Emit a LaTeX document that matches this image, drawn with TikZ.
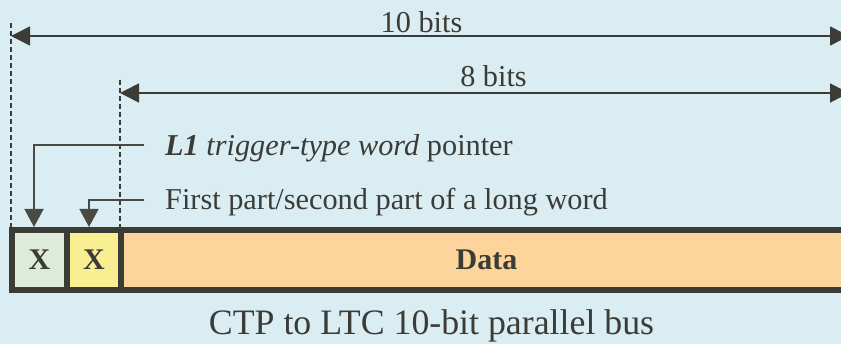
\documentclass[tikz,border=0pt]{standalone}
\usepackage{fontspec}
\setmainfont{Liberation Serif}
\usetikzlibrary{arrows.meta}
\definecolor{bg}{HTML}{DAEDF3}
\definecolor{ink}{HTML}{3C3C36}
\definecolor{cellA}{HTML}{DFEBDA}
\definecolor{cellB}{HTML}{F9EE91}
\definecolor{cellC}{HTML}{FDD59C}
\definecolor{lineg}{HTML}{4A4A45}
\tikzset{
  x=1pt, y=-1pt,
  cell/.style={draw=ink, line width=6pt, minimum height=60pt, inner sep=0pt,
    font=\fontsize{30}{34}\selectfont\bfseries, text=ink},
  lbl/.style={font=\fontsize{30.3}{34}\selectfont, text=ink, inner sep=0pt},
  dimarrow/.style={draw=ink, line width=1.5pt,
    {Triangle[length=19pt,width=19pt]}-{Triangle[length=19pt,width=19pt]}},
  guide/.style={draw=ink, line width=1.5pt, dash pattern=on 5pt off 3pt},
  ptr/.style={draw=lineg, line width=1.4pt, -{Triangle[length=18pt,width=19pt]}}
}
\begin{document}
\begin{tikzpicture}
\fill[bg] (0,0) rectangle (841,344);
\useasboundingbox (0,0) rectangle (841,344);
\clip (0,0) rectangle (841,344);
% cells
\node[cell, draw=none, outer sep=0pt, fill=cellC, minimum width=750pt, anchor=west] (data) at (121,260) {\hspace*{-19pt}Data};
\draw[ink, line width=6pt] (data.north west) -- (data.north east);
\draw[ink, line width=6pt] (data.south west) -- (data.south east);
\node[cell, fill=cellA, minimum width=55pt] (c1) at (39.5,260) {X};
\node[cell, fill=cellB, minimum width=54pt] (c2) at (94,260) {X};
% guides
\coordinate (g1t) at (11,23);
\coordinate (g2t) at (120,80);
\draw[guide] (g1t) -- (11,228);
\draw[guide] (g2t) -- (120,228);
% dimension arrows
\coordinate (a1l) at (11,36);
\coordinate (a1r) at (849,36);
\coordinate (a2l) at (120,93);
\coordinate (a2r) at (849,93);
\draw[dimarrow] (a1l) -- (a1r);
\draw[dimarrow] (a2l) -- (a2r);
\node[lbl, anchor=base] (t10) at (421.5,33) {10 bits};
\node[lbl, anchor=base] (t8) at (493.5,87) {8 bits};
% pointer labels
\node[lbl, anchor=base west] (tl1) at (165,156) {\textbf{\textit{L1}} \textit{trigger-type word} pointer};
\node[lbl, anchor=base west] (tfp) at (165,210) {First part/second part of a long word};
\coordinate (p1) at (144,145);
\coordinate (p2) at (144,200);
\draw[ptr] (p1) -| ([xshift=-5.5pt]c1.north);
\draw[ptr] (p2) -| ([xshift=-5pt]c2.north);
% caption
\node[font=\fontsize{35.8}{40}\selectfont, text=ink, inner sep=0pt, anchor=base] (cap) at (431.5,335) {CTP to LTC 10-bit parallel bus};
\end{tikzpicture}
\end{document}
